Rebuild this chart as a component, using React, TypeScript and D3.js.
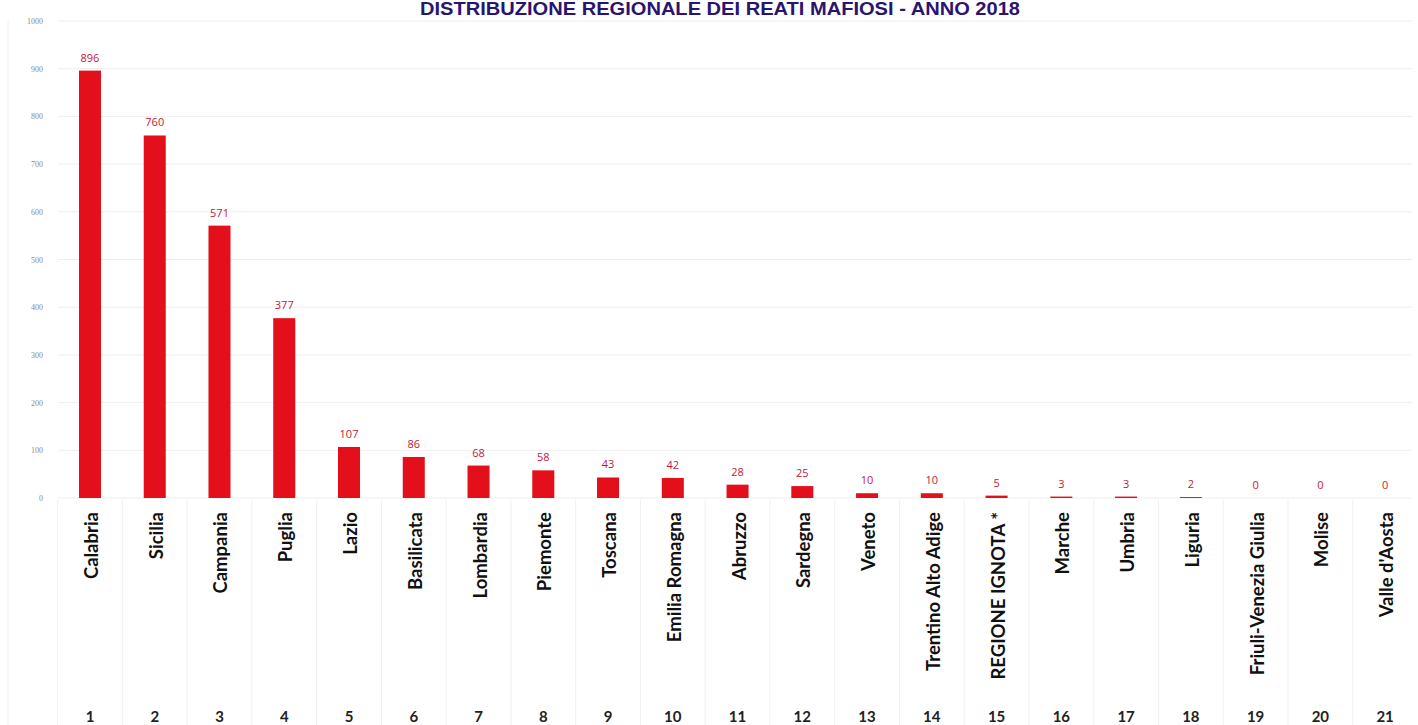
import React from "react";
import * as d3 from "d3";

const regions = [
  "Calabria", "Sicilia", "Campania", "Puglia", "Lazio", "Basilicata", "Lombardia",
  "Piemonte", "Toscana", "Emilia Romagna", "Abruzzo", "Sardegna", "Veneto",
  "Trentino Alto Adige", "REGIONE IGNOTA *", "Marche", "Umbria", "Liguria",
  "Friuli-Venezia Giulia", "Molise", "Valle d'Aosta",
];
const values = [896, 760, 571, 377, 107, 86, 68, 58, 43, 42, 28, 25, 10, 10, 5, 3, 3, 2, 0, 0, 0];
const ranks = regions.map((_, i) => String(i + 1));
const yTicks = [0, 100, 200, 300, 400, 500, 600, 700, 800, 900, 1000];
const title = "DISTRIBUZIONE REGIONALE DEI REATI MAFIOSI - ANNO 2018";

const W = 1418;
const H = 725;

export default function App() {
  const x = d3.scaleBand<string>().domain(ranks).range([57.6, 1417.5]).paddingInner(0.66).paddingOuter(0.33);
  const xOuter = d3.scaleBand<string>().domain(ranks).range([57.6, 1417.5]);
  const y = d3.scaleLinear().domain([0, 1000]).range([498, 21]);

  return (
    <svg width={W} height={H} style={{ position: "absolute", left: 0, top: 0, background: "#fff" }}>
      <rect x={0} y={0} width={W} height={H} fill="#fff" />
      <text x={720} y={15} textAnchor="middle" fontFamily="Liberation Sans, Arial, sans-serif" fontWeight="bold" fontSize={17.5} fill="#2b1470" textLength={600} lengthAdjust="spacingAndGlyphs">
        {title}
      </text>
      {/* gridlines */}
      {yTicks.map((t) => (
        <line key={"g" + t} x1={58} x2={1412} y1={y(t)} y2={y(t)} stroke="#eeeeee" strokeWidth={1} />
      ))}
      {/* y tick labels */}
      {yTicks.map((t) => (
        <text key={"t" + t} x={43} y={y(t) + 3} textAnchor="end" fontFamily="Liberation Serif, serif" fontSize={8} fill="#8a8a8a">
          {t}
        </text>
      ))}
      {/* category separators */}
      {ranks.map((r) => (
        <line key={"s" + r} x1={xOuter(r)!} x2={xOuter(r)!} y1={500} y2={H} stroke="#f0f0f0" strokeWidth={1} />
      ))}
      <line x1={8} x2={8} y1={20} y2={H} stroke="#f2f2f2" />
      {/* bars */}
      {ranks.map((r, i) => (
        <rect key={"b" + r} x={x(r)!} y={y(values[i])} width={x.bandwidth()} height={Math.max(0, y(0) - y(values[i]))} fill="#e3101c" />
      ))}
      {/* value labels */}
      {ranks.map((r, i) => (
        <text key={"v" + r} x={x(r)! + x.bandwidth() / 2} y={y(values[i]) - 9} textAnchor="middle" fontFamily="Open Sans, sans-serif" fontSize={11} fill="#c2183a">
          {values[i]}
        </text>
      ))}
      {/* category labels */}
      {ranks.map((r, i) => {
        const cx = x(r)! + x.bandwidth() / 2 + 8;
        return (
          <text key={"c" + r} transform={`translate(${cx},512) rotate(-90)`} textAnchor="end" fontFamily="Lato, sans-serif" fontWeight={700} fontSize={18.5} fill="#111">
            {regions[i]}
          </text>
        );
      })}
      {/* rank numbers */}
      {ranks.map((r) => (
        <text key={"n" + r} x={x(r)! + x.bandwidth() / 2} y={722} textAnchor="middle" fontFamily="Lato, sans-serif" fontWeight={700} fontSize={15} fill="#222">
          {r}
        </text>
      ))}
    </svg>
  );
}
